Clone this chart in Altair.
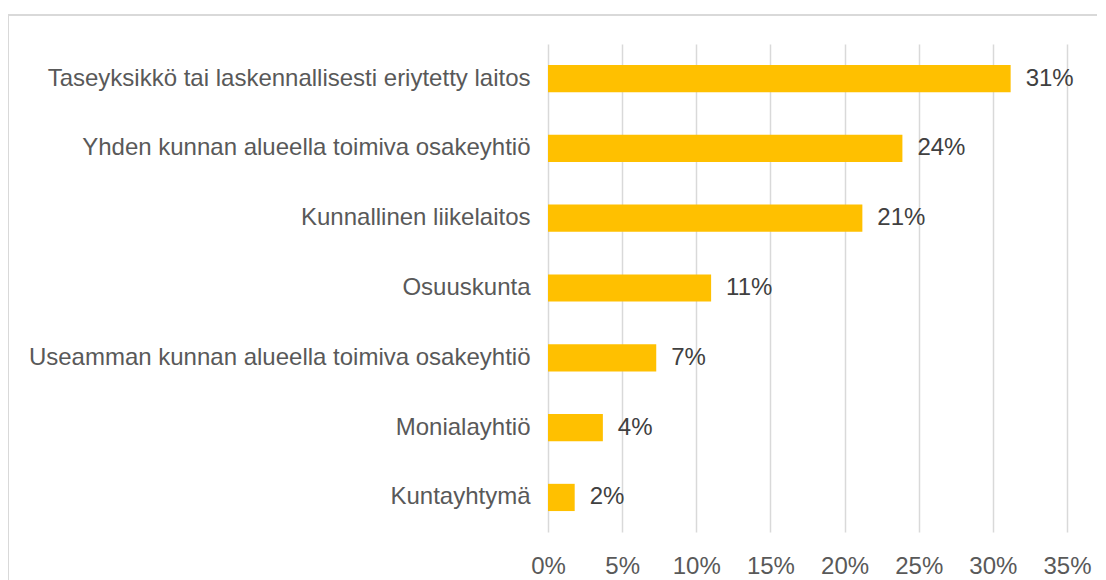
import altair as alt
import pandas as pd

categories = [
    "Taseyksikkö tai laskennallisesti eriytetty laitos",
    "Yhden kunnan alueella toimiva osakeyhtiö",
    "Kunnallinen liikelaitos",
    "Osuuskunta",
    "Useamman kunnan alueella toimiva osakeyhtiö",
    "Monialayhtiö",
    "Kuntayhtymä",
]
shares = [0.312, 0.239, 0.212, 0.110, 0.073, 0.037, 0.018]
tick_values = [0, 0.05, 0.10, 0.15, 0.20, 0.25, 0.30, 0.35]

df = pd.DataFrame({"cat": categories, "share": shares})

FONT = "Liberation Sans"
W, H = 519, 488

x_enc = alt.X(
    "share:Q",
    scale=alt.Scale(domain=[0, 0.35], nice=False, zero=True),
    axis=alt.Axis(
        values=tick_values, format=".0%", grid=True, gridColor="#d9d9d9",
        gridWidth=1.5, domain=False, ticks=False, labelFont=FONT,
        labelFontSize=24, labelColor="#595959", labelPadding=22, title=None,
        labelFlush=False, labelOverlap=False,
    ),
)
y_enc = alt.Y(
    "cat:N", sort=categories,
    scale=alt.Scale(paddingInner=0.61, paddingOuter=0.3),
    axis=alt.Axis(
        domain=False, ticks=False, grid=False, labelFont=FONT, labelFontSize=24,
        labelColor="#595959", labelPadding=18, title=None, labelLimit=600,
    ),
)

bars = alt.Chart(df).mark_bar(color="#FFC000").encode(x=x_enc, y=y_enc)
labels = alt.Chart(df).mark_text(
    align="left", baseline="middle", dx=15, font=FONT, fontSize=24, color="#404040"
).encode(x="share:Q", y=alt.Y("cat:N", sort=categories), text=alt.Text("share:Q", format=".0%"))

frame = alt.Chart(df).mark_rect(
    fill=None, fillOpacity=0, stroke="#d9d9d9", strokeWidth=1.5
).encode(
    x=alt.value(-540), x2=alt.value(W + 100), y=alt.value(-29), y2=alt.value(H + 100)
)

chart = alt.layer(frame, bars, labels).properties(
    width=W, height=H,
    background="white",
    autosize=alt.AutoSizeParams(type="none"),
    padding={"left": 540, "top": 36, "right": 30, "bottom": 48},
).configure_view(strokeWidth=0, stroke="transparent")

chart.save("out.html", embed_options={"renderer": "svg", "actions": False})
